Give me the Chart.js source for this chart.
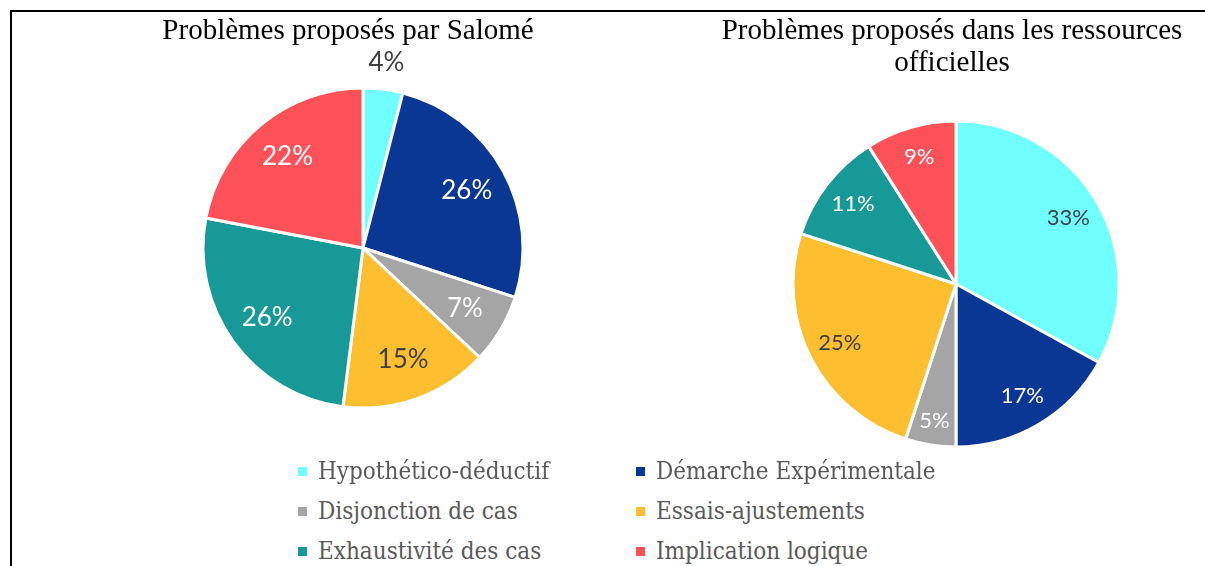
<!DOCTYPE html>
<html>
<head>
<meta charset="utf-8">
<script src="https://cdn.jsdelivr.net/npm/chart.js@4.4.1/dist/chart.umd.min.js"></script>
<style>
    body { margin: 0; width: 1205px; height: 566px; background: #fff; position: relative; overflow: hidden; }
    .frame-top { position: absolute; left: 10px; top: 10px; width: 1195px; height: 2px; background: #000; }
    .frame-left { position: absolute; left: 10px; top: 10px; width: 2px; height: 556px; background: #000; }
    .title { position: absolute; font-family: "Liberation Serif", serif; font-size: 29px; line-height: 32px; color: #000; text-align: center; z-index: 2; }
    .pie-box { position: absolute; width: 420px; height: 420px; }
    .legend { position: absolute; font-family: "DejaVu Serif Condensed", "DejaVu Serif", serif; font-size: 24px; color: #595959; }
    .legend .item { position: absolute; display: flex; align-items: center; white-space: nowrap; height: 30px; }
    .legend .swatch { width: 9px; height: 9px; margin-right: 11px; }
</style>
</head>
<body>
<div class="frame-top"></div>
<div class="frame-left"></div>

<div class="title" style="left: 98px; top: 13px; width: 500px;">Problèmes proposés par Salomé</div>
<div class="title" style="left: 702px; top: 13px; width: 500px;">Problèmes proposés dans les ressources<br>officielles</div>

<div class="pie-box" style="left: 153px; top: 38px;"><canvas id="pieSalome"></canvas></div>
<div class="pie-box" style="left: 746px; top: 74px;"><canvas id="pieOfficiel"></canvas></div>

<div class="legend" id="legend"></div>

<script>
// Categories and values (percent of problems)
const categories = [
    'Hypothético-déductif',
    'Démarche Expérimentale',
    'Disjonction de cas',
    'Essais-ajustements',
    'Exhaustivité des cas',
    'Implication logique'
];
const salomeValues = [4, 26, 7, 15, 26, 22];
const officielValues = [33, 17, 5, 25, 11, 9];

const colors = ['#6FFFFF', '#0A3694', '#A5A5A5', '#FDBE2F', '#179997', '#FF5258'];
const labelColors = ['#404040', '#FFFFFF', '#FFFFFF', '#404040', '#FFFFFF', '#FFFFFF'];

// Percent labels drawn on the slices
const pieLabels = {
    id: 'pieLabels',
    afterDatasetsDraw(chart, args, opts) {
        const ctx = chart.ctx;
        const meta = chart.getDatasetMeta(0);
        const values = chart.data.datasets[0].data;
        ctx.save();
        ctx.font = opts.fontSize + 'px Lato, "Open Sans", sans-serif';
        ctx.textAlign = 'center';
        ctx.textBaseline = 'middle';
        meta.data.forEach((arc, i) => {
            const p = arc.getProps(['x', 'y', 'startAngle', 'endAngle', 'outerRadius'], true);
            const mid = (p.startAngle + p.endAngle) / 2;
            const outside = values[i] < opts.outsideBelow;
            const f = outside ? opts.outsideFactor : (opts.factors[i] || opts.factor);
            const x = p.x + Math.cos(mid) * p.outerRadius * f;
            const y = p.y + Math.sin(mid) * p.outerRadius * f;
            ctx.fillStyle = outside ? '#404040' : labelColors[i];
            ctx.fillText(values[i] + '%', x, y);
        });
        ctx.restore();
    }
};

function makePie(id, values, radius, labelOpts) {
    return new Chart(document.getElementById(id), {
        type: 'pie',
        data: {
            labels: categories,
            datasets: [{
                data: values,
                backgroundColor: colors,
                borderColor: '#FFFFFF',
                borderWidth: 3
            }]
        },
        options: {
            responsive: true,
            maintainAspectRatio: false,
            animation: false,
            radius: radius,
            plugins: {
                legend: { display: false },
                tooltip: { enabled: false },
                pieLabels: labelOpts
            }
        },
        plugins: [pieLabels]
    });
}

makePie('pieSalome', salomeValues, 160, {
    fontSize: 26, factor: 0.74, factors: [], outsideBelow: 5, outsideFactor: 1.17
});
makePie('pieOfficiel', officielValues, 163, {
    fontSize: 22, factor: 0.8, factors: [0, 0.8, 0.85, 0.8, 0.8, 0.81], outsideBelow: 0, outsideFactor: 1.17
});

// Legend shared by both pies (2 columns x 3 rows)
const legendEl = document.getElementById('legend');
const colX = [298, 636];
const rowY = [456, 496, 536];
categories.forEach((name, i) => {
    const item = document.createElement('div');
    item.className = 'item';
    item.style.left = colX[i % 2] + 'px';
    item.style.top = rowY[Math.floor(i / 2)] + 'px';
    const sw = document.createElement('span');
    sw.className = 'swatch';
    sw.style.background = colors[i];
    const txt = document.createElement('span');
    txt.textContent = name;
    item.appendChild(sw);
    item.appendChild(txt);
    legendEl.appendChild(item);
});
</script>
</body>
</html>
